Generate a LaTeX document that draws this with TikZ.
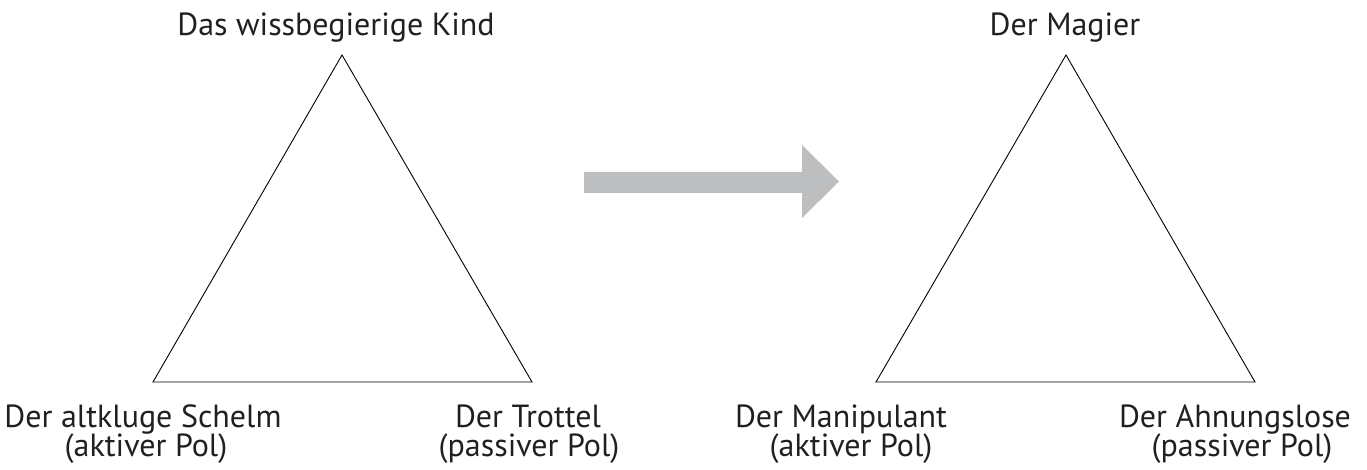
\documentclass[tikz,border=0pt]{standalone}
\usepackage{fontspec}
\setmainfont{PT Sans}
\definecolor{txt}{HTML}{231F20}
\definecolor{arrowgray}{HTML}{BCBEC0}
\begin{document}
\begin{tikzpicture}[x=1pt,y=-1pt,
  lbl/.style={anchor=base, inner sep=0pt, text=txt, font=\fontsize{32}{38}\selectfont},
  tri/.style={draw=black, line width=0.9pt, line join=miter}]
\useasboundingbox (0,0) rectangle (1367,470);
% triangle 1
\coordinate (t1a) at (342,55);
\coordinate (t1b) at (153,382);
\coordinate (t1c) at (532,382);
\draw[tri] (t1a) -- (t1b) -- (t1c) -- cycle;
% triangle 2
\coordinate (t2a) at (1066,55);
\coordinate (t2b) at (876,382);
\coordinate (t2c) at (1255,382);
\draw[tri] (t2a) -- (t2b) -- (t2c) -- cycle;
% arrow
\fill[arrowgray] (584,172) -- (802,172) -- (802,145) -- (839,181.5) -- (802,218) -- (802,193) -- (584,193) -- cycle;
% labels
\node[lbl] (k) at (336,36) {Das wissbegierige Kind};
\node[lbl] (m) at (1065,36) {Der Magier};
\node[lbl] (s1) at (143,427) {Der altkluge Schelm};
\node[lbl] (s2) at (146,456) {(aktiver Pol)};
\node[lbl] (tr1) at (528,427) {Der Trottel};
\node[lbl] (tr2) at (529,456) {(passiver Pol)};
\node[lbl] (ma1) at (841,427) {Der Manipulant};
\node[lbl] (ma2) at (851,456) {(aktiver Pol)};
\node[lbl] (ah1) at (1235,427) {Der Ahnungslose};
\node[lbl] (ah2) at (1242,456) {(passiver Pol)};
\end{tikzpicture}
\end{document}
